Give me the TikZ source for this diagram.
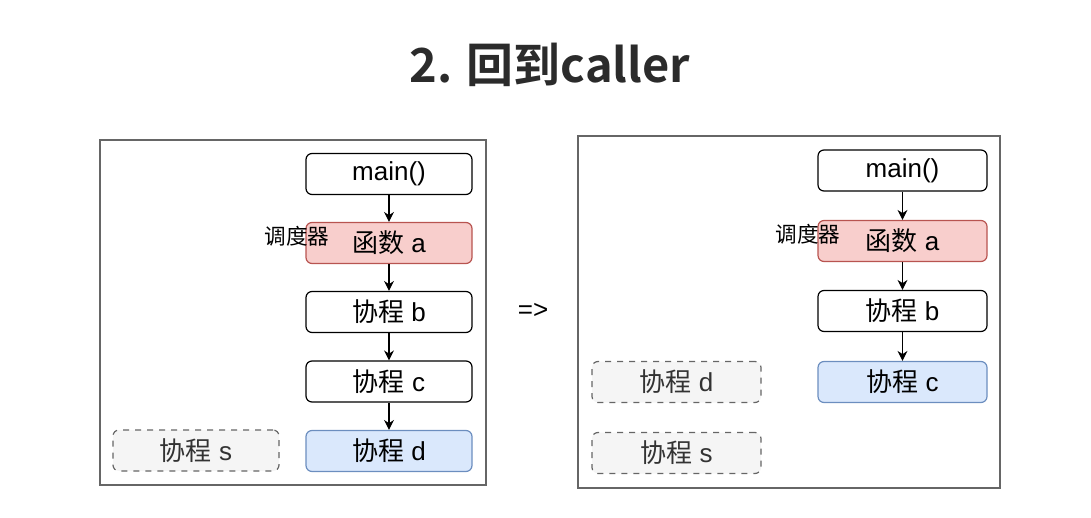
\documentclass[tikz,border=0pt]{standalone}
\usepackage{fontspec}
\setmainfont{Liberation Sans}
\newfontfamily\cjk{Noto Sans CJK SC}
\newfontfamily\cjkbold{Noto Sans CJK SC Bold}
\usetikzlibrary{arrows.meta}

\definecolor{redfill}{HTML}{F8CECC}
\definecolor{redline}{HTML}{B85450}
\definecolor{bluefill}{HTML}{DAE8FC}
\definecolor{blueline}{HTML}{6C8EBF}
\definecolor{grayfill}{HTML}{F5F5F5}
\definecolor{grayline}{HTML}{666666}
\definecolor{titlegray}{HTML}{2B2B2B}

\tikzset{
  frame/.style={draw=grayline,line width=0.6pt},
  task/.style={draw,rounded corners=3pt,line width=0.6pt,minimum width=83pt,minimum height=20.5pt,
    inner sep=0pt,font=\fontsize{13}{15}\selectfont},
  taskleft/.style={task,minimum width=84.5pt},
  callee/.style={fill=redfill,draw=redline},
  current/.style={fill=bluefill,draw=blueline},
  parked/.style={fill=grayfill,draw=grayline,dashed,text=black!80},
  sched/.style={font=\cjk\fontsize{10.8}{12}\selectfont,inner sep=0pt},
  call/.style={-{Stealth[length=5pt,width=5pt]},line width=0.6pt}
}

\begin{document}
\begin{tikzpicture}[x=0.5pt,y=-0.5pt]
\useasboundingbox (0,0) rectangle (1091,518);
\node[font=\cjkbold\fontsize{23.5}{27}\selectfont,text=titlegray] (title) at (550,65) {2. 回到caller};

\begin{scope}
\draw[frame] (100,140) rectangle (486,485);
\node[task] (main) at (389,174) {main()};
\node[task,callee] (a) at (389,243) {{\cjk 函数} a};
\node[task] (b) at (389,312) {{\cjk 协程} b};
\node[task] (c) at (389,381.5) {{\cjk 协程} c};
\node[task,current] (d) at (389,451) {{\cjk 协程} d};
\node[task,parked] (s) at (196,450.5) {{\cjk 协程} s};
\node[sched] (schedA) at (297,236) {调度器};
\draw[call] (main) -- (a);
\draw[call] (a) -- (b);
\draw[call] (b) -- (c);
\draw[call] (c) -- (d);
\end{scope}

\node[font=\fontsize{13}{15}\selectfont] (goesto) at (533,311) {=>};

\begin{scope}
\draw[frame] (578,136) rectangle (1000,488);
\node[taskleft] (main2) at (902.5,170.5) {main()};
\node[taskleft,callee] (a2) at (902.5,241) {{\cjk 函数} a};
\node[taskleft] (b2) at (902.5,311) {{\cjk 协程} b};
\node[taskleft,current] (c2) at (902.5,382) {{\cjk 协程} c};
\node[taskleft,parked] (d2) at (676.5,382) {{\cjk 协程} d};
\node[taskleft,parked] (s2) at (676.5,453) {{\cjk 协程} s};
\node[sched] (schedB) at (808,234) {调度器};
\draw[call] (main2) -- (a2);
\draw[call] (a2) -- (b2);
\draw[call] (b2) -- (c2);
\end{scope}
\end{tikzpicture}
\end{document}
